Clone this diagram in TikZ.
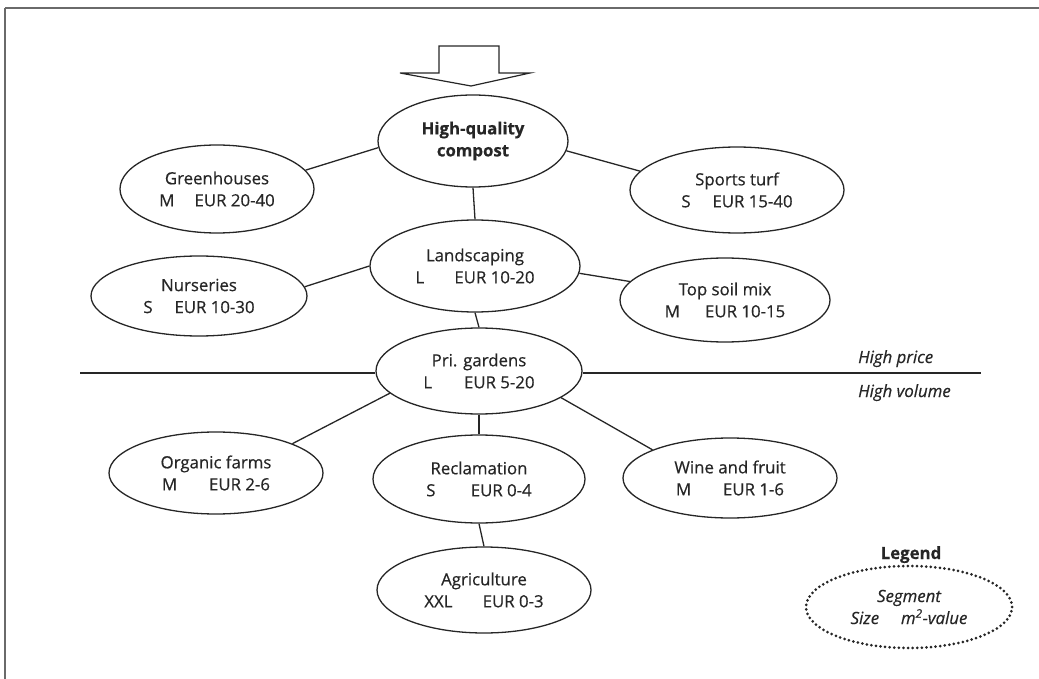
\documentclass[tikz,border=0pt]{standalone}
\usepackage{fontspec}
\setmainfont{Open Sans}
\newfontfamily\segfont{Open Sans}[FakeBold=0.5]
\usetikzlibrary{shapes.geometric}
\definecolor{ink}{HTML}{262626}
\definecolor{frame}{HTML}{6A6A6A}
\tikzset{
  seg/.style={ellipse, draw=ink, line width=1.3pt, fill=white, inner sep=0pt,
              align=center, text=ink, font=\segfont\fontsize{16.8}{22}\selectfont},
  link/.style={draw=ink, line width=1.3pt},
  note/.style={text=ink, font=\segfont\fontsize{16.8}{22}\selectfont\itshape, inner sep=0pt},
}
\newcommand{\sz}[3]{#1\hspace{#2}EUR #3}
\begin{document}
\begin{tikzpicture}[x=1pt, y=-1pt]
  \useasboundingbox (0,0) rectangle (1039,679);
  % frame edges
  \draw[frame, line width=1.8pt] (5,8) -- (1039,8);
  \draw[frame, line width=1.4pt] (5,8) -- (5,679);

  % input arrow
  \draw[ink, line width=1.2pt, line join=miter]
    (439,46) -- (499,46) -- (499,73) -- (530,73) -- (471,86) -- (400,73) -- (439,73) -- cycle;

  % segments
  \node[seg, minimum width=190pt, minimum height=92pt] (hq)  at (473,141) {\textbf{High-quality}\\\textbf{compost}};
  \node[seg, minimum width=194pt, minimum height=88pt] (gh)  at (217,189) {Greenhouses\\\sz{M}{1.2em}{20-40}};
  \node[seg, minimum width=214pt, minimum height=86pt] (st)  at (737,190) {Sports turf\\\sz{S}{1.3em}{15-40}};
  \node[seg, minimum width=210pt, minimum height=92pt] (ls)  at (475,266) {Landscaping\\\sz{L}{1.8em}{10-20}};
  \node[seg, minimum width=216pt, minimum height=80pt] (nu)  at (199,296) {Nurseries\\\sz{S}{1.3em}{10-30}};
  \node[seg, minimum width=210pt, minimum height=84pt] (ts)  at (725,300) {Top soil mix\\\sz{M}{1.5em}{10-15}};
  \node[seg, minimum width=206pt, minimum height=86pt] (pg)  at (479,371) {Pri. gardens\\\sz{L}{1.9em}{5-20}};
  \node[seg, minimum width=214pt, minimum height=82pt] (of)  at (216,473) {Organic farms\\\sz{M}{1.9em}{2-6}};
  \node[seg, minimum width=212pt, minimum height=88pt] (rc)  at (479,479) {Reclamation\\\sz{S}{2.1em}{0-4}};
  \node[seg, minimum width=214pt, minimum height=80pt] (wf)  at (730,478) {Wine and fruit\\\sz{M}{1.9em}{1-6}};
  \node[seg, minimum width=214pt, minimum height=86pt] (ag)  at (484,590) {Agriculture\\\sz{XXL}{1.8em}{0-3}};

  % connections
  \draw[link] (hq.184) -- (gh.12);
  \draw[link] (hq.354) -- (st.169);
  \draw[link] (hq.south) -- (ls.north);
  \draw[link] (ls.180) -- (nu.5);
  \draw[link] (ls.356) -- (ts.169);
  \draw[link] (ls.south) -- (pg.north);
  \draw[link] (pg.194) -- (of.21);
  \draw[link] (pg.342) -- (wf.160);
  \draw[link] (pg.south) -- (rc.north);
  \draw[link] (rc.south) -- (ag.north);

  % price / volume divide
  \coordinate (divL) at (80,373);
  \coordinate (divR) at (981,373);
  \draw[link] (divL) -- (divL -| pg.west);
  \draw[link] (divR -| pg.east) -- (divR);
  \node[note, anchor=base west] (hp) at (858,363) {High price};
  \node[note, anchor=base west] (hv) at (858,397) {High volume};

  % legend
  \node[text=ink, font=\segfont\fontsize{16.8}{22}\selectfont\bfseries, anchor=base] (lg) at (911,559) {Legend};
  \node[ellipse, draw=ink, line width=3pt, line cap=round, dash pattern=on 0pt off 4.6pt,
        minimum width=206pt, minimum height=82pt, inner sep=0pt, align=center, text=ink,
        font=\segfont\fontsize{16.8}{22}\selectfont\itshape] (key) at (909,607)
        {Segment\\Size\hspace{1.3em}m\textsuperscript{2}-value};
\end{tikzpicture}
\end{document}
